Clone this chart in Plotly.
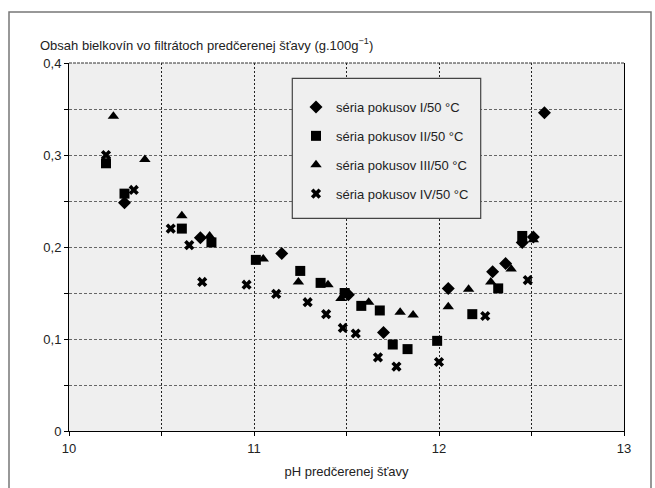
import plotly.graph_objects as go

# Series I (diamonds)
ph_1 = [10.30, 10.71, 11.15, 11.51, 11.70, 12.05, 12.29, 12.36, 12.45, 12.51, 12.57]
prot_1 = [0.248, 0.210, 0.193, 0.148, 0.107, 0.155, 0.173, 0.182, 0.205, 0.211, 0.346]

# Series II (squares)
ph_2 = [10.20, 10.30, 10.61, 10.77, 11.01, 11.25, 11.36, 11.49, 11.58, 11.68, 11.75, 11.83, 11.99, 12.18, 12.32, 12.45]
prot_2 = [0.291, 0.258, 0.220, 0.205, 0.186, 0.174, 0.161, 0.150, 0.136, 0.131, 0.094, 0.089, 0.098, 0.127, 0.155, 0.212]

# Series III (triangles)
ph_3 = [10.24, 10.41, 10.61, 10.76, 11.05, 11.24, 11.40, 11.47, 11.62, 11.79, 11.86, 12.05, 12.16, 12.28, 12.39, 12.51]
prot_3 = [0.342, 0.295, 0.234, 0.212, 0.187, 0.162, 0.159, 0.144, 0.140, 0.129, 0.126, 0.135, 0.154, 0.162, 0.176, 0.208]

# Series IV (crosses)
ph_4 = [10.20, 10.35, 10.55, 10.65, 10.72, 10.96, 11.12, 11.29, 11.39, 11.48, 11.55, 11.67, 11.77, 12.00, 12.25, 12.48]
prot_4 = [0.300, 0.262, 0.220, 0.202, 0.162, 0.159, 0.149, 0.140, 0.127, 0.112, 0.106, 0.080, 0.070, 0.075, 0.125, 0.164]

series_names = ["séria pokusov I/50 °C", "séria pokusov II/50 °C",
                "séria pokusov III/50 °C", "séria pokusov IV/50 °C"]

y_ticks = [0, 0.1, 0.2, 0.3, 0.4]
x_ticks = [10, 11, 12, 13]

FONT = "Liberation Sans, Arial, sans-serif"
FS = 13
PLOT_BG = "#efefef"

fig = go.Figure()
specs = [
    (ph_1, prot_1, "diamond", 10),
    (ph_2, prot_2, "square", 10),
    (ph_3, prot_3, "triangle-up", 10),
    (ph_4, prot_4, "x", 9),
]
for i, ((xs, ys, sym, sz), name) in enumerate(zip(specs, series_names)):
    fig.add_trace(go.Scatter(
        x=xs, y=ys, mode="markers", name=name, legendgroup=f"g{i}",
        marker=dict(symbol=sym, size=sz, color="black", line=dict(width=0)),
    ))

W, H = 655, 488
L, R, T, B = 69, 31, 63, 57
pw, ph = W - L - R, H - T - B

def px_x(p):
    return (p - L) / pw

def px_y(p):
    return (H - B - p) / ph

fig.update_layout(
    width=W, height=H,
    margin=dict(l=L, r=R, t=T, b=B, autoexpand=False),
    paper_bgcolor="white",
    plot_bgcolor=PLOT_BG,
    separators=", ",
    font=dict(family=FONT, size=FS, color="#222"),
    title=dict(
        text="Obsah bielkovín vo filtrátoch predčerenej šťavy (g.100g<sup>−1</sup>)",
        x=40 / W, xanchor="left", xref="container",
        y=1 - 45 / H, yanchor="middle", yref="container",
        font=dict(family=FONT, size=FS, color="#222"),
    ),
    xaxis=dict(
        range=[10, 13], tickvals=x_ticks, ticks="outside", ticklen=4,
        tickcolor="black", showline=True, linecolor="black", linewidth=1,
        mirror=False, showgrid=True, gridcolor="#222", gridwidth=1, griddash="2px,2px",
        minor=dict(dtick=0.5, tick0=10, showgrid=True, gridcolor="#222",
                   griddash="2px,2px", ticks="outside", ticklen=4, tickcolor="black"),
        zeroline=False, automargin=False,
        ticklabelstandoff=1,
        title=dict(text="pH predčerenej šťavy", standoff=12,
                   font=dict(family=FONT, size=FS)),
        tickfont=dict(family=FONT, size=FS),
    ),
    yaxis=dict(
        range=[0, 0.4], tickvals=y_ticks, ticks="outside", ticklen=4,
        tickcolor="black", showline=True, linecolor="black", linewidth=1,
        mirror=True, showgrid=True, gridcolor="#666", gridwidth=1, griddash="3px,2px",
        minor=dict(dtick=0.05, tick0=0, showgrid=True, gridcolor="#666",
                   griddash="3px,2px", ticks="outside", ticklen=4, tickcolor="black"),
        zeroline=False, automargin=False,
        tickfont=dict(family=FONT, size=FS),
    ),
    showlegend=True,
    legend=dict(
        x=px_x(296), xanchor="left", y=px_y(92), yanchor="top",
        bgcolor="rgba(0,0,0,0)", borderwidth=0,
        tracegroupgap=9,
        font=dict(family=FONT, size=FS, color="#222"),
    ),
    shapes=[
        # dashed top border line (gridline at 0.4)
        dict(type="line", xref="paper", yref="paper", x0=0, x1=1, y0=1, y1=1,
             line=dict(color="#333", width=1.2, dash="3px,1px"), layer="above"),
        # legend frame
        dict(type="rect", xref="paper", yref="paper",
             x0=px_x(292.3), x1=px_x(480.7), y0=px_y(218.3), y1=px_y(78.3),
             line=dict(color="#444", width=1.2), fillcolor=PLOT_BG, layer="above"),
        # outer figure frame
        dict(type="rect", xref="paper", yref="paper",
             x0=px_x(9), x1=px_x(651), y0=px_y(490), y1=px_y(12),
             line=dict(color="#777", width=1.5), fillcolor="rgba(0,0,0,0)", layer="below"),
    ],
)

fig.write_html("out.html")
